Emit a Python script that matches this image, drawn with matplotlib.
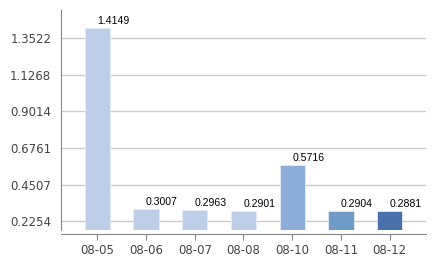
import numpy as np
import matplotlib
matplotlib.use("Agg")
import matplotlib.pyplot as plt

dates = ["08-05", "08-06", "08-07", "08-08", "08-10", "08-11", "08-12"]
values = [1.4149, 0.3007, 0.2963, 0.2901, 0.5716, 0.2904, 0.2881]
colors = ["#bdcfe8", "#bdcfe8", "#bdcfe8", "#bdcfe8", "#8daed8", "#6f9cc6", "#4a71ac"]
yticks = [0.2254, 0.4507, 0.6761, 0.9014, 1.1268, 1.3522]
ytick_labels = ["0.2254", "0.4507", "0.6761", "0.9014", "1.1268", "1.3522"]

fig = plt.figure(figsize=(4.38, 2.6), dpi=100)
ax = fig.add_axes([61/438, 1-229.5/260, 365/438, 219.5/260])

x = np.arange(len(dates))
ax.bar(x, values, width=0.52, color=colors, edgecolor="#e4ecf6", linewidth=0.6, zorder=3)

for xi, v in zip(x, values):
    ax.text(xi, v + 0.012, "{:.4f}".format(v), ha="left", va="bottom", fontsize=7.6,
            family=["Liberation Sans Narrow", "Liberation Sans"], color="black", zorder=4)

ax.set_xlim(-0.745, len(dates) - 1 + 0.745)
ax.set_ylim(0.1743, 1.5244)
ax.set_yticks(yticks)
ax.set_yticklabels(ytick_labels)
ax.set_xticks(x)
ax.set_xticklabels(dates)

ax.grid(axis="y", color="#cccccc", linewidth=1, zorder=0)
ax.spines["top"].set_visible(False)
ax.spines["right"].set_visible(False)
ax.spines["left"].set_color("#888888")
ax.spines["bottom"].set_color("#888888")
ax.spines["bottom"].set_position(("outward", 3.2))
ax.tick_params(axis="y", length=0, pad=7, labelsize=8.5, labelcolor="#444444")
ax.tick_params(axis="x", length=4, color="#888888", pad=3, labelsize=8.5, labelcolor="#444444")

fig.savefig("out.png", dpi=100)
